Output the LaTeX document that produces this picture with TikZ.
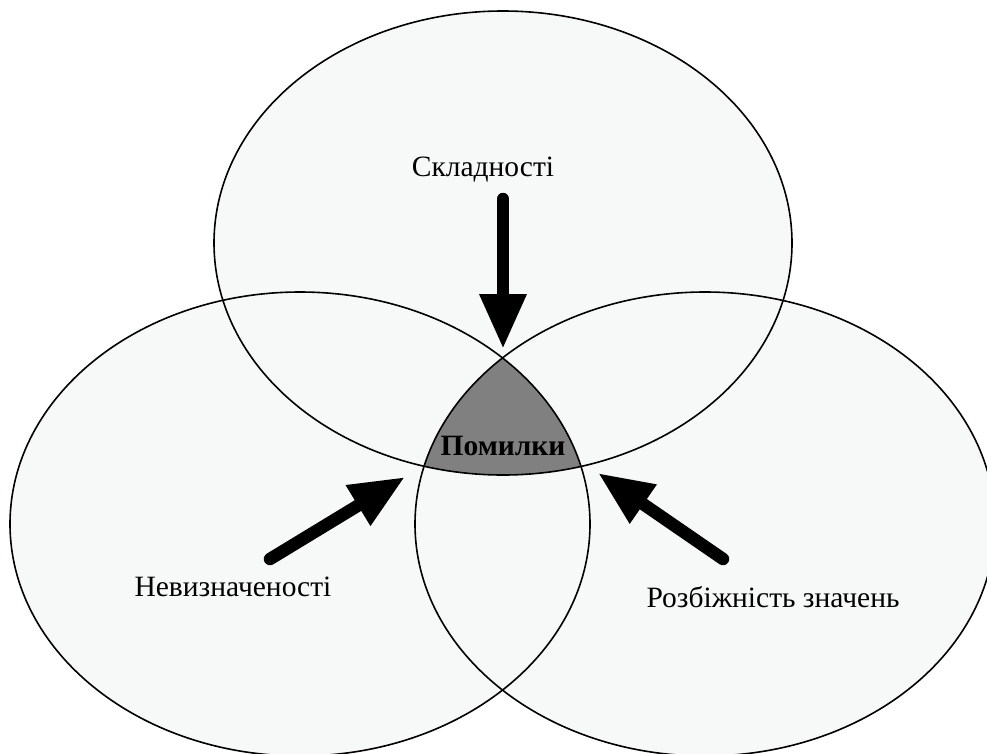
\documentclass[tikz,border=0pt]{standalone}
\usepackage{fontspec}
\setmainfont{Liberation Serif}
\usetikzlibrary{arrows.meta}
\definecolor{setfill}{HTML}{F7F9F9}
\definecolor{corefill}{HTML}{808080}
\begin{document}
\begin{tikzpicture}[x=1pt,y=-1pt]

\tikzset{myset/.style={draw=black,line width=1.6pt},}
\tikzset{myarrow/.style={-{Triangle[width=44pt,length=55pt]},line width=12.5pt,line cap=round},}
\tikzset{mylabel/.style={inner sep=0pt,font=\fontsize{29.5}{34}\selectfont},}

  \useasboundingbox (0,0) rectangle (987,753);
  \clip (0,0) rectangle (987,753);

  \coordinate (top) at (503,243);
  \coordinate (left) at (300,524);
  \coordinate (right) at (705,524);

  %sets
  \fill[setfill] (top) ellipse [x radius=289pt,y radius=232pt];
  \fill[setfill] (left) ellipse [x radius=290pt,y radius=232pt];
  \fill[setfill] (right) ellipse [x radius=290pt,y radius=232pt];
  \begin{scope}
    \clip (top) ellipse [x radius=289pt,y radius=232pt];
    \clip (left) ellipse [x radius=290pt,y radius=232pt];
    \fill[corefill] (right) ellipse [x radius=290pt,y radius=232pt];
  \end{scope}
  \draw[myset] (top) ellipse [x radius=289pt,y radius=232pt];
  \draw[myset] (left) ellipse [x radius=290pt,y radius=232pt];
  \draw[myset] (right) ellipse [x radius=290pt,y radius=232pt];

  \draw (483,170) node[mylabel](compl) {Складності};
  \draw (233,587) node[mylabel](uncert) {Невизначеності};
  \draw (773,597) node[mylabel](diverg) {Розбіжність значень};
  \draw (503,446) node[mylabel,font=\fontsize{29.5}{34}\selectfont\bfseries](errors) {Помилки};

  %arrows to errors
  \coordinate (t1) at (503,199);
  \coordinate (h1) at (503,349);
  \coordinate (t2) at (270,559);
  \coordinate (h2) at (405,477);
  \coordinate (t3) at (723,559);
  \coordinate (h3) at (598,473);
    \draw[myarrow] (t1) -- (h1);
    \draw[myarrow] (t2) -- (h2);
    \draw[myarrow] (t3) -- (h3);

\end{tikzpicture}
\end{document}
